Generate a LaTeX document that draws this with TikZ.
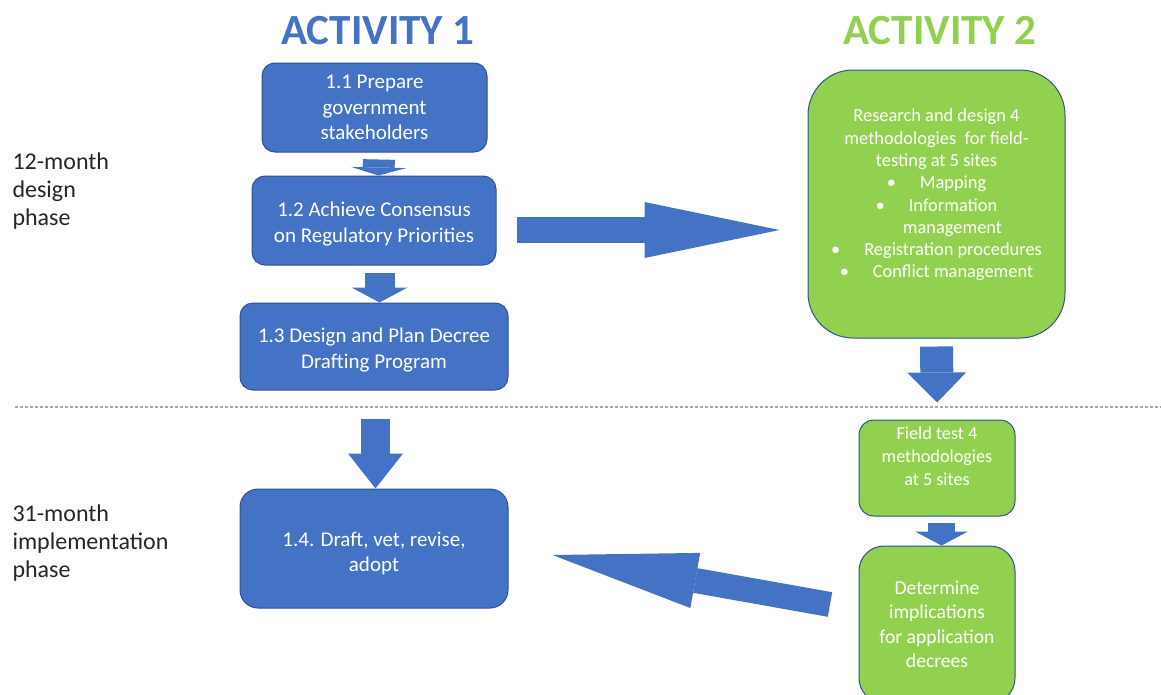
\documentclass[tikz,border=0pt]{standalone}
\usepackage{fontspec}
\setmainfont{Carlito}
\usepackage{tikz}
\usetikzlibrary{arrows.meta, calc}

\definecolor{actblue}{HTML}{4472C4}
\definecolor{actgreen}{HTML}{92D050}
\definecolor{edgeblue}{HTML}{2F528F}
\definecolor{labelgray}{HTML}{262626}

\newcommand{\bul}{\textbullet\hspace{1.3em}}

\tikzset{
  box/.style={draw=edgeblue, line width=1pt, fill=actblue, text=white, align=center,
    inner sep=0pt, rounded corners=13pt, font=\fontsize{21}{25.5}\selectfont},
  gbox/.style={box, fill=actgreen},
  fatarrow/.style n args={3}{draw=actblue, line width=#1,
    -{Triangle[length=#2, width=#3, line width=0pt]}},
  phase/.style={anchor=west, align=left, text=labelgray, font=\fontsize{24}{28}\selectfont},
  title/.style={font=\fontsize{43}{50}\selectfont\bfseries}
}

\begin{document}
\begin{tikzpicture}[x=1pt, y=-1pt]
  \useasboundingbox[fill=white] (0,0) rectangle (1161,694);

  % ----- Titles and phases -----
  \node[title, text=actblue] (t1) at (378,31) {ACTIVITY 1};
  \node[title, text=actgreen] (t2) at (940,31) {ACTIVITY 2};

  \node[phase] (p1) at (9,191) {12-month\\design\\phase};
  \node[phase] (p2) at (9,543) {31-month\\implementation\\phase};

  \draw[gray!70, line width=1.4pt, dash pattern=on 3pt off 2pt] (15,407) -- (1161,407);

  % ----- Activity 1 -----
  \node[box, minimum width=225, minimum height=89] (a11) at (374.5,107.5)
    {1.1 Prepare\\government\\stakeholders};
  \node[box, minimum width=244, minimum height=89] (a12) at (374,220.5)
    {\strut\\[-22pt]1.2 Achieve Consensus\\on Regulatory Priorities};
  \node[box, minimum width=268, minimum height=87] (a13) at (374,346.5)
    {\strut\\[-22pt]1.3 Design and Plan Decree\\Drafting Program};
  \node[box, minimum width=268, minimum height=119, rounded corners=18pt] (a14) at (374,548.5)
    {\strut\\[-19pt]1.4. Draft, vet, revise,\\adopt};

  % ----- Activity 2 -----
  \node[gbox, minimum width=257, minimum height=268, rounded corners=45pt,
    font=\fontsize{18.4}{22.3}\selectfont] (res) at (936.5,204)
    {Research and design 4\\methodologies~ for field-\\testing at 5 sites\\
     \bul Mapping\\\bul Information\\\hspace*{32pt}management\\
     \bul Registration procedures\\\bul Conflict management\\[-8pt]\strut};
  \node[gbox, minimum width=156, minimum height=96, rounded corners=15pt,
    font=\fontsize{18.2}{23}\selectfont] (fld) at (937,468)
    {Field test 4\\methodologies\\at 5 sites\\[-6pt]\strut};
  \node[gbox, minimum width=156, minimum height=157, rounded corners=25pt,
    font=\fontsize{19.6}{24.5}\selectfont] (det) at (937,624.5)
    {Determine\\implications\\for application\\decrees};

  % ----- Block arrows -----
  \draw[fatarrow={32pt}{8pt}{55pt}, shorten <=7pt] ([xshift=4.5]a11.south) -- ([xshift=4.5]a12.north);
  \draw[fatarrow={30pt}{15pt}{56pt}, shorten <=7pt] ([xshift=5.5]a12.south) -- ([xshift=5.5]a13.north);
  \draw[fatarrow={29pt}{35pt}{55pt}, shorten <=28pt] ([xshift=1.5]a13.south) -- ([xshift=1.5]a14.north);
  \draw[fatarrow={26pt}{135pt}{56pt}] ($(a12.east)+(20,9.5)$) -- ($(res.west)+(-28,26)$);
  \draw[fatarrow={33pt}{30pt}{59pt}, shorten <=8pt] (res.south) -- ($(fld.north)+(0,-17)$);
  \draw[fatarrow={27pt}{14pt}{53pt}, shorten <=6pt] ([xshift=4.5]fld.south) -- ([xshift=4.5]det.north);
  \draw[fatarrow={25pt}{145pt}{56pt}] ($(det.west)+(-28.5,-20)$) -- ($(a14.east)+(44,6.5)$);
\end{tikzpicture}
\end{document}
